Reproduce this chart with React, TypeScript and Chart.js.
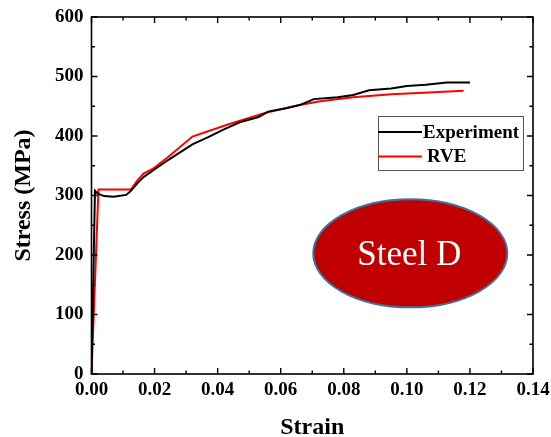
import React, { useEffect, useRef } from "react";
import { Chart, registerables } from "chart.js";

Chart.register(...registerables);

// ---- data ----
const experimentStrain = [0, 0.0011, 0.002, 0.004, 0.007, 0.011, 0.0125, 0.0148, 0.0165, 0.0195, 0.0244, 0.032, 0.037, 0.042, 0.047, 0.053, 0.056, 0.062, 0.066, 0.0705, 0.078, 0.083, 0.088, 0.095, 0.1, 0.106, 0.1126, 0.12];
const experimentStress = [0, 308, 303, 299, 298, 301, 308, 322, 331, 342, 360, 386, 398, 411, 423, 432, 441, 447, 452, 462, 465, 469, 477, 480, 484, 486, 490, 490];
const rveStrain = [0, 0.0022, 0.0125, 0.0145, 0.0165, 0.0195, 0.0244, 0.032, 0.043, 0.0545, 0.066, 0.072, 0.083, 0.095, 0.102, 0.118];
const rveStress = [0, 310, 310, 325, 337, 345, 365, 399, 419, 438, 452, 458, 465, 470, 472, 476];

const seriesLabels = ["Experiment", "RVE"];
const xTitle = "Strain";
const yTitle = "Stress (MPa)";
const badgeText = "Steel D";
const xRange = [0, 0.14];
const yRange = [0, 600];
const xStep = 0.02;
const yStep = 100;

const SERIF = '"Liberation Serif", "Times New Roman", serif';

const framePlugin = {
  id: "frameTicks",
  afterDatasetsDraw(chart: any) {
    const { ctx, chartArea } = chart;
    const { left, right, top, bottom } = chartArea;
    const xs = chart.scales.x;
    const ys = chart.scales.y;
    ctx.save();
    ctx.strokeStyle = "#000";
    ctx.lineWidth = 1.6;
    ctx.strokeRect(left, top, right - left, bottom - top);
    ctx.lineWidth = 1.4;
    const major = 6;
    const minor = 3.5;
    const xt = xs.ticks.map((t: any) => t.value);
    const yt = ys.ticks.map((t: any) => t.value);
    ctx.beginPath();
    xt.forEach((v: number, i: number) => {
      const p = xs.getPixelForValue(v);
      ctx.moveTo(p, bottom); ctx.lineTo(p, bottom - major);
      ctx.moveTo(p, top); ctx.lineTo(p, top + major);
      if (i < xt.length - 1) {
        const m = xs.getPixelForValue((v + xt[i + 1]) / 2);
        ctx.moveTo(m, bottom); ctx.lineTo(m, bottom - minor);
        ctx.moveTo(m, top); ctx.lineTo(m, top + minor);
      }
    });
    yt.forEach((v: number, i: number) => {
      const p = ys.getPixelForValue(v);
      ctx.moveTo(left, p); ctx.lineTo(left + major, p);
      ctx.moveTo(right, p); ctx.lineTo(right - major, p);
      if (i < yt.length - 1) {
        const m = ys.getPixelForValue((v + yt[i + 1]) / 2);
        ctx.moveTo(left, m); ctx.lineTo(left + minor, m);
        ctx.moveTo(right, m); ctx.lineTo(right - minor, m);
      }
    });
    ctx.stroke();
    ctx.restore();
  },
  afterDraw(chart: any) {
    const { ctx, chartArea } = chart;
    const { left, right, top, bottom } = chartArea;
    const w = right - left;
    const h = bottom - top;
    ctx.save();
    // legend box
    const lw = 145;
    const lh = 54;
    const lx = right - 10 - lw;
    const ly = top + 99;
    ctx.strokeStyle = "#555";
    ctx.lineWidth = 1;
    ctx.strokeRect(Math.round(lx) + 0.5, Math.round(ly) + 0.5, lw, lh);
    ctx.font = `bold 19px ${SERIF}`;
    ctx.textBaseline = "middle";
    ctx.textAlign = "left";
    chart.data.datasets.forEach((ds: any, i: number) => {
      const yy = ly + 16 + i * 24.5;
      ctx.strokeStyle = ds.borderColor;
      ctx.lineWidth = 2;
      ctx.beginPath();
      ctx.moveTo(lx, yy);
      ctx.lineTo(lx + 44, yy);
      ctx.stroke();
      ctx.fillStyle = "#000";
      ctx.fillText(ds.label, lx + 45 + (i === 1 ? 4 : 0), yy + 1);
    });
    // badge ellipse
    const cx = left + w * 0.722;
    const cy = top + h * 0.662;
    ctx.beginPath();
    ctx.ellipse(cx, cy, 97, 54, 0, 0, Math.PI * 2);
    ctx.fillStyle = "#C00000";
    ctx.fill();
    ctx.strokeStyle = "#41719C";
    ctx.lineWidth = 2;
    ctx.stroke();
    ctx.fillStyle = "#FFFFFF";
    ctx.font = `35px ${SERIF}`;
    ctx.textAlign = "center";
    ctx.textBaseline = "middle";
    ctx.fillText(badgeText, cx - 1, cy + 2);
    ctx.restore();
  },
};

export default function App() {
  const ref = useRef<HTMLCanvasElement>(null);
  useEffect(() => {
    if (!ref.current) return;
    const chart = new Chart(ref.current, {
      type: "line",
      data: {
        datasets: [
          {
            label: seriesLabels[0],
            data: experimentStrain.map((x, i) => ({ x, y: experimentStress[i] })),
            borderColor: "#000000",
            borderWidth: 2,
            pointRadius: 0,
            tension: 0,
            fill: false,
          },
          {
            label: seriesLabels[1],
            data: rveStrain.map((x, i) => ({ x, y: rveStress[i] })),
            borderColor: "#FF0000",
            borderWidth: 2,
            pointRadius: 0,
            tension: 0,
            fill: false,
          },
        ],
      },
      options: {
        animation: false,
        responsive: false,
        layout: { padding: { top: 17, right: 18, bottom: 0, left: 0 } },
        plugins: { legend: { display: false }, tooltip: { enabled: false } },
        scales: {
          x: {
            type: "linear",
            min: xRange[0],
            max: xRange[1],
            grid: { display: false, drawTicks: false },
            border: { display: false },
            ticks: {
              stepSize: xStep,
              padding: 5,
              color: "#000",
              font: { family: SERIF, size: 19, weight: "bold" },
              callback: (v: any) => Number(v).toFixed(2),
              maxRotation: 0,
              autoSkip: false,
            },
            title: {
              display: true,
              text: xTitle,
              color: "#000",
              font: { family: SERIF, size: 24, weight: "bold", lineHeight: 0.75 },
              padding: 0,
            },
            afterFit: (s: any) => {
              s.height = 63;
              s.paddingLeft = 0;
              s.paddingRight = 0;
            },
          },
          y: {
            type: "linear",
            min: yRange[0],
            max: yRange[1],
            grid: { display: false, drawTicks: false },
            border: { display: false },
            ticks: {
              stepSize: yStep,
              padding: 8,
              color: "#000",
              font: { family: SERIF, size: 19, weight: "bold" },
            },
            title: {
              display: true,
              text: yTitle,
              color: "#000",
              font: { family: SERIF, size: 24, weight: "bold", lineHeight: 1 },
              padding: { top: 12, bottom: 0 },
            },
            afterFit: (s: any) => {
              s.width = 91.5;
              s.paddingTop = 1;
              s.paddingBottom = 0;
            },
          },
        },
      },
      plugins: [framePlugin],
    } as any);
    return () => chart.destroy();
  }, []);
  return (
    <div style={{ position: "fixed", left: 0, top: 0, width: 551, height: 437, background: "#fff" }}>
      <canvas ref={ref} width={551} height={437} style={{ display: "block" }} />
    </div>
  );
}
